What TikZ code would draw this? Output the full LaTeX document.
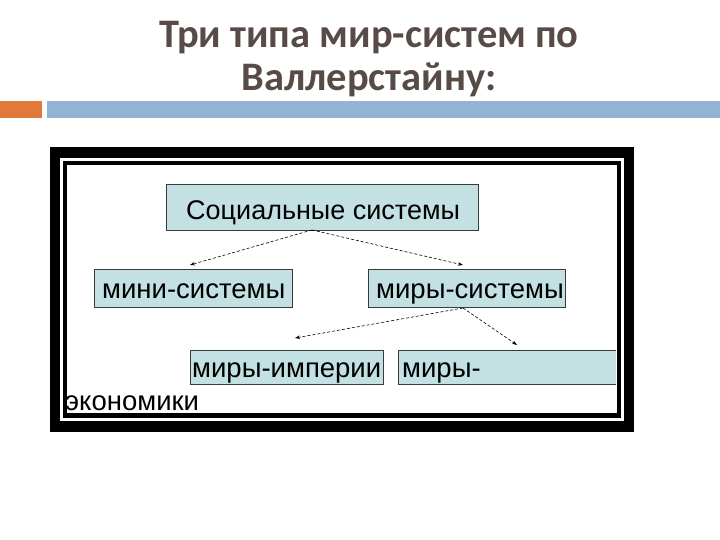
\documentclass[tikz,border=0pt]{standalone}
\usepackage{fontspec}
\setmainfont{Liberation Sans}
\newfontfamily\titlefont{Carlito}
\usetikzlibrary{arrows.meta}
\definecolor{boxfill}{HTML}{C3E0E3}
\definecolor{boxline}{HTML}{3A3A3A}
\definecolor{titlegray}{HTML}{584B47}
\definecolor{barorange}{HTML}{E0793A}
\definecolor{barblue}{HTML}{93B3D4}
\tikzset{
  cbox/.style={draw=boxline, line width=0.8pt, fill=boxfill},
  btext/.style={inner sep=0pt, anchor=base west, font=\fontsize{27.5}{30}\selectfont},
  ttext/.style={inner sep=0pt, text=titlegray, font=\titlefont\bfseries\fontsize{40.5}{44}\selectfont},
  darrow/.style={draw=black, line width=0.6pt, dash pattern=on 3pt off 2pt, -{Stealth[length=5pt,width=3.5pt]}},
}
\begin{document}
\begin{tikzpicture}[x=1pt,y=-1pt]
\useasboundingbox (0,0) rectangle (720,540);
\fill[white] (0,0) rectangle (720,540);
% title
\node[ttext] (t1) at (369,38) {Три типа мир-систем по};
\node[ttext] (t2) at (369,80) {Валлерстайну:};
% bars
\fill[barorange] (0,101) rectangle (42,118);
\fill[barblue] (47,101) rectangle (720,118);
% frame
\fill[black] (50,147) rectangle (634,432);
\fill[white] (60,158) rectangle (624,421);
\fill[black] (63,161) rectangle (621,418);
\fill[white] (67,165) rectangle (617,413);
% boxes
\draw[cbox] (166,184) rectangle (478,230);
\coordinate (socS) at (312,230);
\node[inner sep=0pt, anchor=base west, font=\fontsize{27}{30}\selectfont] (soc) at (186,219) {Социальные системы};
\draw[cbox] (94,269) rectangle (292,307);
\node[btext] (mini) at (102,298) {мини-системы};
\draw[cbox] (368,269) rectangle (565,307);
\node[btext] (mirs) at (376,298) {миры-системы};
\draw[cbox] (190,350) rectangle (383,384);
\node[btext] (imp) at (192,377) {миры-империи};
\fill[boxfill] (398,350) rectangle (616,384);
\draw[boxline, line width=0.8pt] (616,350) -- (398,350) -- (398,384) -- (616,384);
\node[btext] (eco) at (402,377) {миры-};
\node[btext] (eco2) at (65,410) {экономики};
% connectors
\coordinate (a1) at (190,265);
\coordinate (a2) at (463,265);
\coordinate (mS) at (463,308);
\coordinate (a3) at (295,338);
\coordinate (a4) at (517,345);
\draw[darrow] (socS) -- (a1);
\draw[darrow] (socS) -- (a2);
\draw[darrow] (mS) -- (a3);
\draw[darrow] (mS) -- (a4);
\end{tikzpicture}
\end{document}
